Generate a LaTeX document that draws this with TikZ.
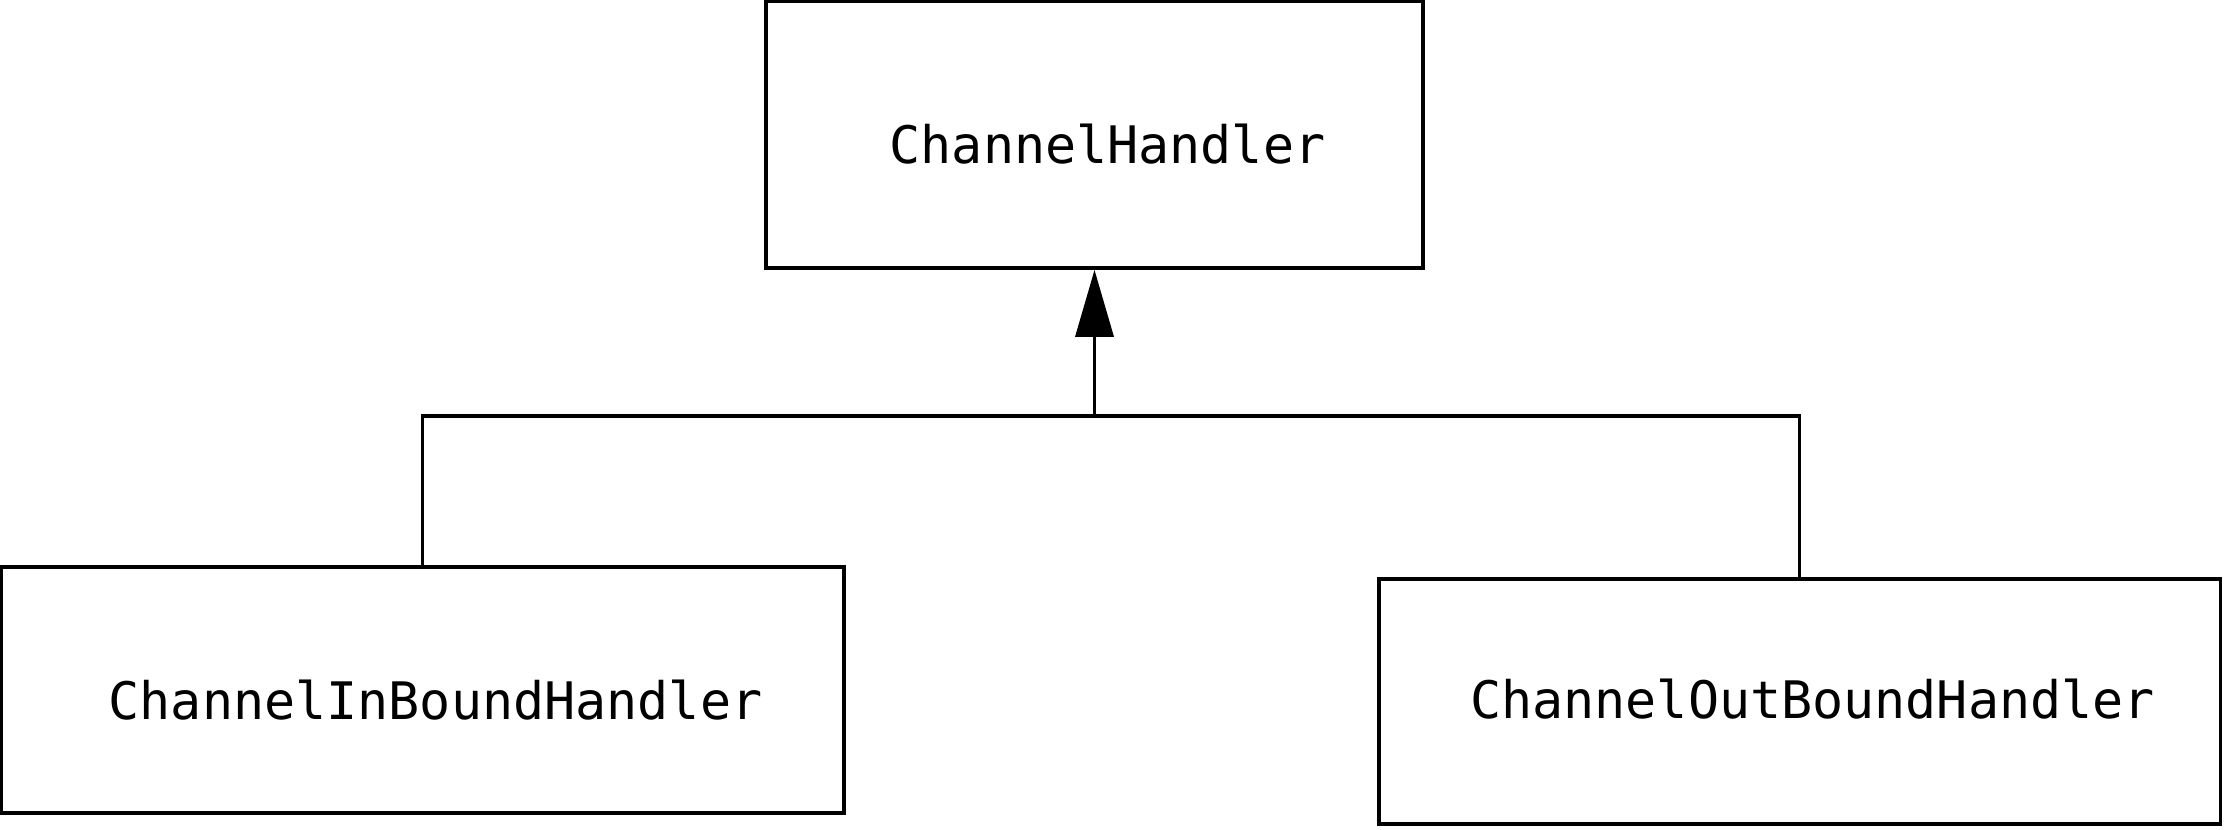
\documentclass[tikz,border=0pt]{standalone}
\usepackage{fontspec}
\setmonofont{DejaVu Sans Mono}
\usepackage{tikz}
\usetikzlibrary{arrows.meta, positioning}

% class name, set a little right of (and, by #1, below) the box centre
\newcommand{\clname}[2][-0.1cm]{\raisebox{#1}[\height][\depth]{\hspace*{0.26cm}#2}}

\begin{document}
\begin{tikzpicture}[
  font=\ttfamily\fontsize{14.7}{17}\selectfont,
  x=0.01cm, y=-0.01cm,
  cls/.style={rectangle, draw, line width=1pt, align=center, inner sep=0pt},
  lnk/.style={line width=1pt},
  inh/.style={line width=1pt, -{Triangle[length=0.67cm, width=0.38cm]}}]

  \useasboundingbox (0,0) rectangle (2224,829);

  % base class
  \node[cls, minimum width=6.57cm, minimum height=2.67cm] (ch) at (1094.5,134.5) {\clname{ChannelHandler}};

  % sub classes
  \node[cls, minimum width=8.43cm, minimum height=2.46cm] (inb) at (422.5,690) {\clname{ChannelInBoundHandler}};
  \node[cls, minimum width=8.41cm, minimum height=2.45cm] (outb) at (1799.5,701.5) {\clname[0.02cm]{ChannelOutBoundHandler}};

  \coordinate (junc) at (ch.south |- 0,416);
  \draw[lnk] (inb.north) |- (junc) -| (outb.north);
  \draw[inh] (junc) -- (ch.south);
\end{tikzpicture}
\end{document}
